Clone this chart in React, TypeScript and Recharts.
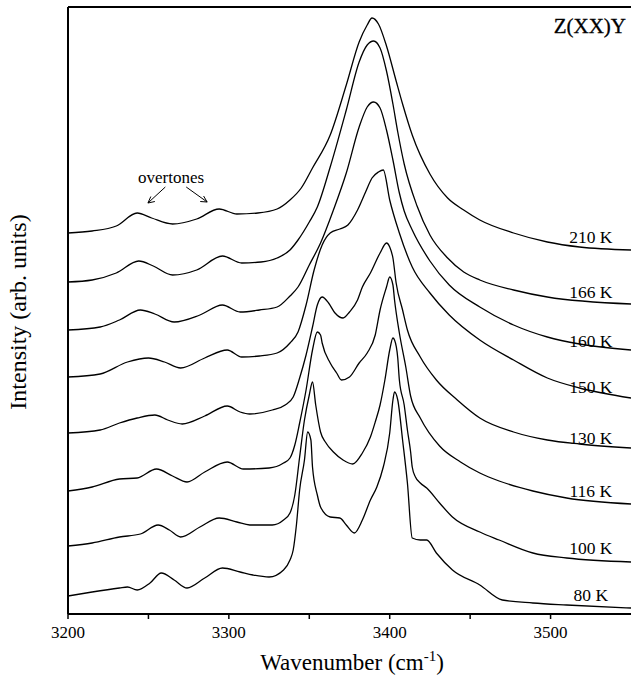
import React from 'react';
import { LineChart, Line, XAxis, YAxis, ReferenceLine } from 'recharts';

// Wavenumber (cm^-1) samples and intensities (arb. units, offset-stacked) per temperature
const wn210 = [3200, 3215, 3230, 3243, 3252, 3265, 3280, 3294, 3305, 3318, 3330, 3338, 3345, 3352, 3363, 3373, 3381, 3386, 3389, 3393, 3398, 3404, 3408, 3414, 3425, 3436, 3446, 3456, 3477, 3498, 3518, 3550];
const i210 = [381, 383, 388, 401, 396, 390, 395, 405, 400, 401, 405, 414, 426, 446, 479, 529, 572, 589, 596, 590, 568, 533, 510, 479, 440, 416, 404, 394, 381, 372, 367, 364];

const wn166 = [3200, 3215, 3230, 3244, 3253, 3265, 3280, 3296, 3308, 3320, 3330, 3338, 3343, 3350, 3355, 3363, 3373, 3381, 3386, 3390, 3394, 3398, 3402, 3405, 3409, 3417, 3425, 3436, 3446, 3456, 3477, 3498, 3550];
const i166 = [332, 334, 341, 353, 348, 339, 344, 358, 351, 352, 356, 364, 374, 392, 407, 447, 504, 552, 569, 573, 566, 543, 510, 482, 450, 408, 379, 356, 342, 334, 324, 317, 310];

const wn160 = [3200, 3220, 3232, 3245, 3254, 3266, 3282, 3296, 3307, 3319, 3330, 3338, 3343, 3350, 3357, 3365, 3373, 3381, 3386, 3390, 3394, 3398, 3402, 3406, 3409, 3414, 3425, 3437, 3456, 3477, 3498, 3518, 3550];
const i160 = [284, 287, 294, 304, 300, 292, 299, 309, 302, 304, 307, 318, 327, 349, 371, 404, 441, 487, 507, 512, 506, 484, 454, 421, 403, 384, 353, 329, 307, 289, 277, 270, 264];

const wn150 = [3200, 3220, 3237, 3250, 3260, 3270, 3285, 3299, 3308, 3319, 3330, 3338, 3343, 3348, 3353, 3358, 3363, 3369, 3374, 3380, 3385, 3389, 3393, 3396, 3400, 3406, 3414, 3425, 3437, 3456, 3477, 3498, 3518, 3550];
const i150 = [237, 240, 252, 256, 252, 246, 256, 264, 257, 258, 261, 271, 282, 309, 344, 369, 381, 385, 389, 404, 422, 436, 442, 444, 414, 381, 347, 321, 299, 274, 254, 236, 226, 216];

const wn130 = [3200, 3220, 3232, 3243, 3254, 3262, 3271, 3285, 3299, 3307, 3313, 3327, 3335, 3340, 3344, 3348, 3352, 3355, 3358, 3362, 3366, 3371, 3375, 3380, 3383, 3388, 3394, 3398, 3400, 3402, 3404, 3408, 3411, 3419, 3429, 3442, 3456, 3477, 3498, 3518, 3550];
const i130 = [181, 184, 191, 196, 199, 194, 190, 198, 208, 202, 200, 204, 209, 217, 236, 259, 287, 309, 317, 311, 301, 296, 302, 314, 327, 341, 361, 371, 367, 356, 331, 304, 284, 257, 234, 214, 196, 182, 174, 170, 166];

const wn116 = [3200, 3215, 3232, 3243, 3255, 3265, 3274, 3285, 3299, 3309, 3325, 3334, 3338, 3341, 3344, 3348, 3352, 3355, 3357, 3358, 3363, 3367, 3370, 3375, 3381, 3386, 3391, 3394, 3398, 3400, 3402, 3403, 3406, 3410, 3413, 3419, 3431, 3444, 3456, 3468, 3489, 3510, 3550];
const i116 = [123, 127, 135, 136, 145, 138, 132, 142, 152, 145, 146, 151, 156, 169, 191, 224, 264, 282, 279, 271, 251, 241, 234, 237, 251, 261, 279, 304, 327, 337, 329, 314, 281, 247, 218, 196, 168, 152, 141, 133, 123, 116, 110];

const wn100 = [3200, 3215, 3232, 3245, 3256, 3263, 3270, 3282, 3294, 3305, 3313, 3327, 3334, 3338, 3341, 3344, 3347, 3350, 3352, 3354, 3357, 3360, 3365, 3371, 3377, 3383, 3388, 3391, 3394, 3397, 3400, 3402, 3403, 3405, 3406, 3409, 3411, 3413, 3414, 3416, 3419, 3423, 3431, 3439, 3456, 3468, 3489, 3510, 3550];
const i100 = [68, 71, 77, 80, 89, 84, 77, 87, 96, 92, 89, 89, 94, 101, 119, 157, 194, 219, 232, 209, 182, 172, 162, 154, 150, 161, 177, 192, 209, 234, 264, 276, 274, 256, 234, 209, 184, 162, 147, 137, 131, 126, 111, 97, 82, 74, 61, 56, 52];

const wn80 = [3200, 3215, 3232, 3237, 3243, 3251, 3258, 3266, 3274, 3285, 3296, 3307, 3315, 3325, 3334, 3338, 3340, 3342, 3344, 3347, 3349, 3351, 3352, 3355, 3357, 3363, 3369, 3373, 3378, 3383, 3388, 3392, 3396, 3400, 3402, 3403, 3405, 3408, 3411, 3414, 3419, 3423, 3429, 3439, 3456, 3470, 3489, 3510, 3550];
const i80 = [18, 22, 26, 27, 24, 31, 41, 34, 26, 36, 46, 42, 39, 37, 44, 54, 64, 89, 124, 154, 182, 174, 147, 119, 107, 97, 96, 89, 81, 94, 114, 127, 147, 181, 214, 222, 214, 174, 131, 76, 74, 74, 61, 44, 29, 14, 11, 9, 6];

const temperatures = ['210 K', '166 K', '160 K', '150 K', '130 K', '116 K', '100 K', '80 K'];
const wavenumbers = [wn210, wn166, wn160, wn150, wn130, wn116, wn100, wn80];
const intensities = [i210, i166, i160, i150, i130, i116, i100, i80];
// label anchor heights (same units as intensities), read at the right edge
const labelLevels = [371, 316, 267, 221, 170, 117, 60, 13];

const xTicks = [3200, 3250, 3300, 3350, 3400, 3450, 3500];

const FONT = '"Liberation Serif", "Times New Roman", serif';

const series = temperatures.map((t, k) => ({
  name: t,
  data: wavenumbers[k].map((x, i) => ({ x, y: intensities[k][i] })),
}));

const LabelText = (props: any) => {
  const { viewBox, value } = props;
  if (!viewBox) return null;
  return (
    <text x={viewBox.x} y={viewBox.y} textAnchor="middle" fontFamily={FONT} fontSize={17.5} fill="#000">
      {value}
    </text>
  );
};

export default function App() {
  return (
    <div style={{ position: 'absolute', left: 0, top: 0, width: 631, height: 679, background: '#fff' }}>
      <LineChart width={631} height={679} margin={{ top: 7, right: 0, bottom: 0, left: 0 }}>
        <XAxis
          type="number"
          dataKey="x"
          domain={[3200, 3550]}
          ticks={xTicks}
          interval={0}
          allowDataOverflow
          tickFormatter={(v: number) => (v % 100 === 0 ? String(v) : '')}
          tick={{ fill: '#000', fontSize: 17, fontFamily: FONT }}
          tickLine={{ stroke: '#000', strokeWidth: 1.5 }}
          axisLine={{ stroke: '#000', strokeWidth: 2 }}
          tickSize={5}
          tickMargin={7}
          height={65}
        />
        <YAxis
          type="number"
          domain={[0, 607]}
          allowDataOverflow
          tick={false}
          tickLine={false}
          axisLine={{ stroke: '#000', strokeWidth: 2 }}
          width={68}
        />
        <ReferenceLine y={607} stroke="#000" strokeWidth={2} />
        {series.map((s) => (
          <Line
            key={s.name}
            data={s.data}
            dataKey="y"
            type="monotone"
            stroke="#000"
            strokeWidth={1.3}
            dot={false}
            activeDot={false}
            isAnimationActive={false}
          />
        ))}
        {temperatures.map((t, k) => (
          <ReferenceLine
            key={'lab' + t}
            segment={[{ x: 3525, y: labelLevels[k] }, { x: 3525, y: labelLevels[k] }]}
            stroke="none"
            label={<LabelText value={t} />}
          />
        ))}
        {/* overtone arrows */}
        <ReferenceLine segment={[{ x: 3260.5, y: 427 }, { x: 3249.7, y: 411 }]} stroke="#000" strokeWidth={1} />
        <ReferenceLine segment={[{ x: 3249.7, y: 411 }, { x: 3254.0, y: 412.5 }]} stroke="#000" strokeWidth={1} />
        <ReferenceLine segment={[{ x: 3249.7, y: 411 }, { x: 3251.5, y: 417.5 }]} stroke="#000" strokeWidth={1} />
        <ReferenceLine segment={[{ x: 3273.5, y: 427 }, { x: 3286.5, y: 412 }]} stroke="#000" strokeWidth={1} />
        <ReferenceLine segment={[{ x: 3286.5, y: 412 }, { x: 3284.3, y: 418 }]} stroke="#000" strokeWidth={1} />
        <ReferenceLine segment={[{ x: 3286.5, y: 412 }, { x: 3282.2, y: 412.5 }]} stroke="#000" strokeWidth={1} />
      </LineChart>
      <svg width={631} height={679} style={{ position: 'absolute', left: 0, top: 0, pointerEvents: 'none' }}>
        <text x={626} y={33} textAnchor="end" fontFamily={FONT} fontSize={21} fill="#000" stroke="#000" strokeWidth={0.3}>Z(XX)Y</text>
        <text x={171} y={183} textAnchor="middle" fontFamily={FONT} fontSize={17} fill="#000">overtones</text>
        <text
          x={0}
          y={0}
          transform="translate(26,312) rotate(-90)"
          textAnchor="middle"
          fontFamily={FONT}
          fontSize={24}
          fill="#000"
        >
          Intensity (arb. units)
        </text>
        <text x={352} y={670} textAnchor="middle" fontFamily={FONT} fontSize={23} fill="#000">
          Wavenumber (cm
          <tspan dy={-9} fontSize={15}>-1</tspan>
          <tspan dy={9}>)</tspan>
        </text>
      </svg>
    </div>
  );
}
